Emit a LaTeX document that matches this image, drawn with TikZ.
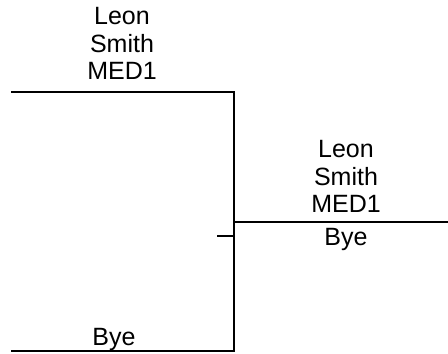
\documentclass[tikz,border=0pt]{standalone}
\usepackage{fontspec}
\setmainfont{Liberation Sans}
\begin{document}
\begin{tikzpicture}[x=1pt,y=-1pt,
  lbl/.style={inner sep=0pt, align=center, font=\fontsize{25}{27.5}\selectfont},
  wire/.style={line width=1.6pt}]
\useasboundingbox (0,0) rectangle (448,354);
\coordinate (tl) at (11,92);
\coordinate (tr) at (234,92);
\coordinate (br) at (234,351);
\coordinate (bl) at (11,351);
\coordinate (m) at (234,222);
\coordinate (mr) at (448,222);
\coordinate (tk) at (217,236);
\coordinate (tkr) at (234,236);
\node[lbl, anchor=south] (top) at (122,80) {Leon\\Smith\\MED1};
\node[lbl, anchor=south] (right) at (346,213) {Leon\\Smith\\MED1};
\node[lbl, anchor=base] (rbye) at (346,245) {Bye};
\node[lbl, anchor=base] (bbye) at (114,345) {Bye};
\draw[wire] (tl) -- (tr) -- (br) -- (bl);
\draw[wire] (m) -- (mr);
\draw[line width=1.2pt] (tk) -- (tkr);
\end{tikzpicture}
\end{document}
